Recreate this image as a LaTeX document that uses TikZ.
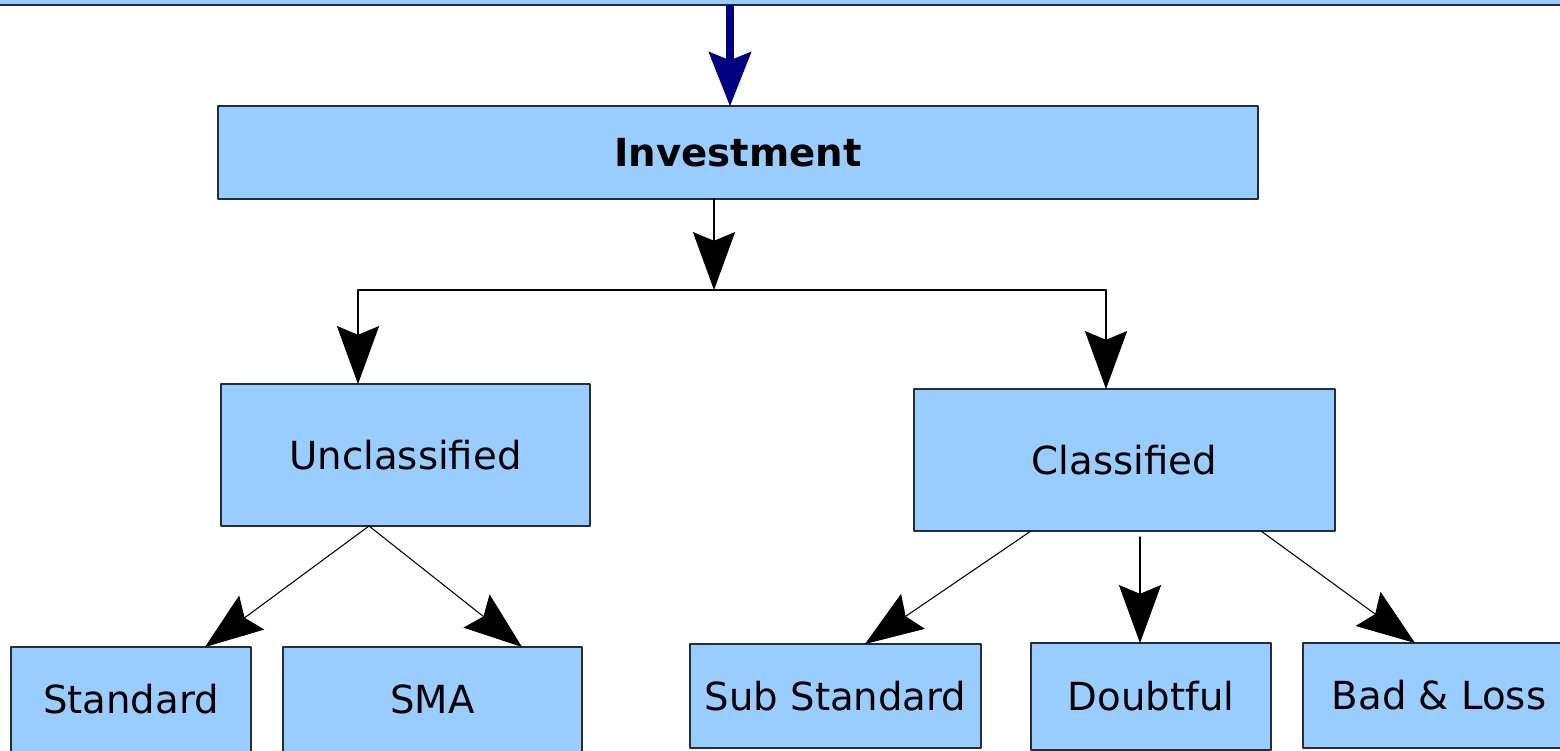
\documentclass[tikz,border=0pt]{standalone}
\usepackage{fontspec}
\setmainfont{DejaVu Sans}
\usetikzlibrary{arrows.meta}
\definecolor{boxblue}{RGB}{153,204,255}
\definecolor{boxline}{RGB}{35,45,60}
\definecolor{navyarrow}{RGB}{0,0,128}
\begin{document}
\begin{tikzpicture}[line cap=round,line join=round,x=0.02cm,y=-0.02cm,
  box/.style={draw=boxline,fill=boxblue,line width=1.1pt,inner sep=0pt,outer sep=0pt,font=\fontsize{22}{26}\selectfont},
  arr/.style={line width=0.6pt,-{Stealth[length=33pt,width=24pt,inset=5pt,line width=0.5pt]}},
  bluearr/.style={draw=navyarrow,line width=4.5pt,line cap=butt,-{Stealth[length=31pt,width=24.5pt,inset=5pt,line width=0.5pt]}}]
	\useasboundingbox (0,0) rectangle (1560,751);
	\clip (0,0) rectangle (1560,751);
	\fill[white] (0,0) rectangle (1560,751);
	\node[box,minimum width=32cm,minimum height=1.1cm] (src) at (780,-22.5) {};
	\node[box,minimum width=20.8cm,minimum height=1.86cm] (inv) at (738,152.5) {\bfseries Investment};
	\node[box,minimum width=7.38cm,minimum height=2.84cm] (uncl) at (405.5,455) {Unclassified};
	\node[box,minimum width=8.42cm,minimum height=2.84cm] (cls) at (1124.5,460) {Classified};
	\node[box,minimum width=4.8cm,minimum height=2.1cm] (std) at (131,699.5) {Standard};
	\node[box,minimum width=5.98cm,minimum height=2.1cm] (sma) at (432.5,699.5) {SMA};
	\node[box,minimum width=5.82cm,minimum height=2.08cm] (sub) at (835.5,696) {Sub Standard};
	\node[box,minimum width=4.8cm,minimum height=2.14cm] (dbt) at (1151,696.5) {Doubtful};
	\node[box,minimum width=5.44cm,minimum height=2.1cm] (bad) at (1439,695.5) {Bad \& Loss};
	\draw[bluearr] (730,0 |- src.south) -- (730,0 |- inv.north);
	\draw[arr] (714,0 |- inv.south) -- (714,290) coordinate (fork);
	\draw[line width=0.6pt] (358,0 |- fork) -- (1106,0 |- fork);
	\draw[arr] (358,0 |- fork) -- (358,0 |- uncl.north);
	\draw[arr] (1106,0 |- fork) -- (1106,0 |- cls.north);
	\coordinate (ubot) at (369,0 |- uncl.south);
	\draw[arr] (ubot) -- (205,0 |- std.north);
	\draw[arr] (ubot) -- (522,0 |- sma.north);
	\draw[arr] (1031,0 |- cls.south) -- (865,0 |- sub.north);
	\draw[arr] (1140,537) -- (1140,0 |- dbt.north);
	\draw[arr] (1261,0 |- cls.south) -- (1415,0 |- bad.north);
\end{tikzpicture}
\end{document}
